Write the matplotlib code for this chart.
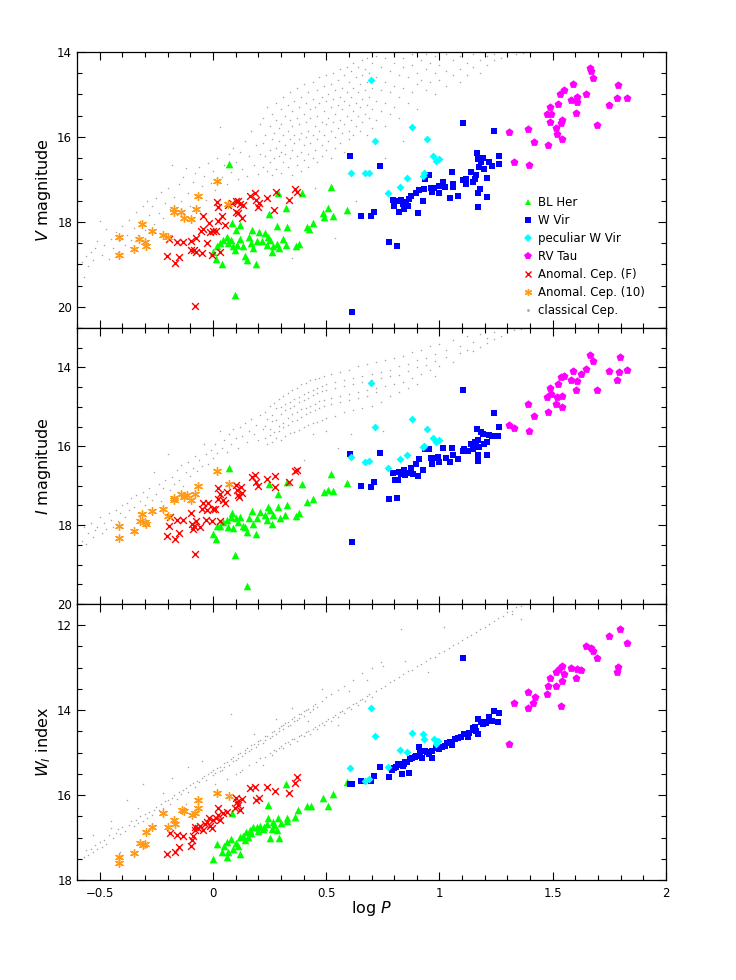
import matplotlib
matplotlib.use('Agg')
import matplotlib.pyplot as plt
from matplotlib.lines import Line2D
from matplotlib.ticker import MultipleLocator, FuncFormatter

# ==========================================
# data: (log P, magnitude) per class and panel
# ==========================================

# ---- V panel ----
blher_v_logp = [0.071, 0.083, 0.097, 0.120, 0.102, 0.002, 0.012, 0.039, 0.017, 0.031, 0.046, 0.061, 0.068, 0.078,
                0.090, 0.097, 0.105, 0.120, 0.131, 0.142, 0.149, 0.161, 0.167, 0.174, 0.178, 0.189, 0.193, 0.205,
                0.215, 0.230, 0.240, 0.244, 0.252, 0.259, 0.263, 0.281, 0.285, 0.293, 0.310, 0.322, 0.325, 0.365,
                0.381, 0.416, 0.425, 0.440, 0.487, 0.490, 0.509, 0.531, 0.592, 0.523, 0.394, 0.288, 0.322, 0.249]
blher_v = [16.64, 18.02, 19.72, 18.07, 18.20, 18.70, 18.88, 18.99, 18.58, 18.50, 18.42, 18.36, 18.50, 18.42,
           18.58, 18.66, 18.54, 18.41, 18.58, 18.80, 18.89, 18.36, 18.50, 18.19, 18.62, 18.99, 18.44, 18.23,
           18.46, 18.27, 18.54, 18.36, 18.42, 18.72, 18.58, 18.09, 18.52, 18.62, 18.41, 18.54, 18.13, 18.58,
           18.53, 18.13, 18.17, 18.02, 17.80, 17.89, 17.68, 17.86, 17.73, 17.18, 17.33, 17.33, 17.68, 17.81]

wvir_v_logp = [0.604, 0.616, 0.655, 1.102, 1.241, 0.739, 0.698, 0.713, 0.779, 0.813, 0.796, 0.801, 0.816, 0.830,
               0.838, 0.852, 0.860, 0.842, 0.820, 0.864, 0.874, 0.896, 0.908, 0.933, 0.926, 0.904, 0.937, 0.952,
               0.967, 0.977, 0.996, 0.999, 1.017, 1.025, 1.047, 1.058, 1.061, 1.055, 1.084, 1.102, 1.117, 1.119,
               1.139, 1.158, 1.164, 1.168, 1.175, 1.178, 1.168, 1.168, 1.183, 1.190, 1.197, 1.208, 1.219, 1.231,
               1.263, 1.263, 1.146, 1.161, 1.209, 0.962]
wvir_v = [16.46, 20.13, 17.87, 15.67, 15.85, 16.69, 17.87, 17.76, 18.48, 18.58, 17.49, 17.62, 17.51, 17.49,
          17.59, 17.53, 17.62, 17.69, 17.76, 17.47, 17.40, 17.33, 17.25, 17.22, 17.51, 17.79, 17.00, 16.89,
          17.29, 17.20, 17.16, 17.32, 17.06, 17.18, 17.43, 17.10, 17.18, 16.82, 17.40, 17.02, 17.00, 17.10,
          16.82, 16.98, 16.39, 16.53, 16.71, 17.22, 17.33, 17.65, 16.59, 16.49, 16.76, 16.96, 16.59, 16.68,
          16.45, 16.63, 17.06, 16.89, 17.41, 17.20]

pwvir_v_logp = [0.698, 0.717, 0.877, 0.943, 0.970, 0.984, 0.999, 0.933, 0.926, 0.857, 0.826, 0.774, 0.691, 0.609, 0.670]
pwvir_v = [14.67, 16.10, 15.77, 16.04, 16.45, 16.57, 16.53, 16.84, 16.92, 16.96, 17.18, 17.31, 16.85, 16.84, 16.84]

rvtau_v_logp = [1.663, 1.667, 1.679, 1.589, 1.550, 1.531, 1.645, 1.608, 1.579, 1.608, 1.525, 1.487, 1.476, 1.491,
                1.604, 1.487, 1.542, 1.535, 1.516, 1.520, 1.539, 1.418, 1.479, 1.393, 1.305, 1.329, 1.396, 1.697,
                1.748, 1.789, 1.785, 1.826]
rvtau_v = [14.38, 14.45, 14.61, 14.75, 14.90, 15.00, 14.98, 15.06, 15.14, 15.18, 15.22, 15.29, 15.45, 15.45,
           15.43, 15.65, 15.61, 15.67, 15.79, 15.92, 16.05, 16.13, 16.20, 15.82, 15.88, 16.59, 16.65, 15.73,
           15.24, 14.78, 15.08, 15.08]

acf_v_logp = [-0.204, -0.167, -0.149, -0.192, -0.159, -0.133, -0.096, -0.074, -0.096, -0.083, -0.074, -0.049,
              -0.005, 0.031, -0.079, -0.027, -0.054, -0.042, -0.042, -0.017, -0.013, 0.002, 0.014, 0.024, 0.042,
              0.053, 0.017, 0.024, 0.068, 0.083, 0.102, 0.112, 0.102, 0.112, 0.120, 0.131, 0.127, 0.164, 0.186,
              0.190, 0.200, 0.205, 0.237, 0.269, 0.277, 0.335, 0.362, 0.369]
acf_v = [18.80, 18.96, 18.83, 18.40, 18.48, 18.48, 18.44, 18.39, 18.67, 18.66, 18.70, 18.74, 18.78, 18.70,
         19.98, 18.50, 18.21, 18.17, 17.87, 18.02, 18.23, 18.21, 18.21, 17.97, 17.87, 18.07, 17.54, 17.64,
         17.60, 17.56, 17.52, 17.52, 17.76, 17.80, 17.58, 17.60, 17.91, 17.39, 17.33, 17.48, 17.64, 17.56,
         17.44, 17.72, 17.29, 17.48, 17.23, 17.29]

ac1o_v_logp = [-0.416, -0.416, -0.350, -0.325, -0.314, -0.300, -0.296, -0.270, -0.221, -0.200, -0.174, -0.170,
               -0.140, -0.126, -0.096, -0.074, -0.068, 0.018, 0.068]
ac1o_v = [18.36, 18.79, 18.64, 18.41, 18.05, 18.48, 18.58, 18.22, 18.31, 18.36, 17.69, 17.76, 17.76, 17.91,
          17.93, 17.69, 17.40, 17.04, 17.59]

# classical Cepheids, V: (log P, [V values at that log P])
cep_v_cols = [
    (-0.58, [18.95]), (-0.57, [19.30]), (-0.56, [18.80]), (-0.55, [19.05]), (-0.54, [18.70]), (-0.53, [18.90]),
    (-0.52, [18.62]), (-0.51, [18.45]), (-0.50, [17.99]), (-0.49, [18.78]), (-0.48, [18.55]), (-0.47, [18.17]),
    (-0.46, [18.88]), (-0.45, [18.40]), (-0.44, [18.62]), (-0.43, [18.25]), (-0.42, [18.70]), (-0.41, [18.42]),
    (-0.40, [18.10]), (-0.39, [18.55]), (-0.38, [18.30]), (-0.37, [17.95]), (-0.36, [18.42]), (-0.35, [18.15]),
    (-0.34, [17.76]), (-0.33, [18.30]), (-0.32, [17.98]), (-0.31, [17.62]), (-0.30, [18.20]), (-0.29, [17.52]),
    (-0.28, [17.85]), (-0.27, [17.62]), (-0.26, [18.05]), (-0.25, [17.45]), (-0.24, [17.78]), (-0.23, [17.30]),
    (-0.22, [17.92]), (-0.21, [17.55]), (-0.20, [17.20]), (-0.19, [17.70]), (-0.18, [16.66]), (-0.17, [17.42]),
    (-0.16, [17.85]), (-0.15, [17.10]), (-0.14, [17.50]), (-0.13, [16.95]), (-0.12, [16.74]), (-0.11, [17.33]),
    (-0.10, [17.62]), (-0.09, [17.05]), (-0.08, [16.85]), (-0.07, [17.38]), (-0.06, [16.70]), (-0.05, [17.15]),
    (-0.04, [16.93]), (-0.03, [17.48]), (-0.02, [16.62]), (-0.01, [17.09]), (0.00, [16.80]), (0.01, [17.25]),
    (0.02, [16.50]), (0.03, [15.76]), (0.04, [16.95]), (0.05, [16.65]), (0.06, [17.10]), (0.07, [16.40]),
    (0.08, [16.82]), (0.09, [16.25]), (0.10, [16.60]), (0.11, [17.00]), (0.12, [16.35]), (0.13, [16.75]),
    (0.14, [16.10]), (0.15, [16.92]), (0.16, [16.45]), (0.17, [15.85]), (0.18, [16.65]), (0.19, [16.20]),
    (0.20, [16.88]), (0.21, [15.70, 16.40]),
    (0.22, [15.55, 16.15, 16.70]), (0.23, [15.95, 16.45]), (0.24, [15.30, 16.80]), (0.25, [15.75, 16.30, 16.60]),
    (0.26, [15.45, 16.05, 16.90]), (0.27, [15.90, 16.50]), (0.28, [15.20, 15.60, 16.25, 16.75]),
    (0.29, [15.80, 16.10, 16.45]), (0.30, [15.35, 15.70, 16.35, 16.85]), (0.31, [15.05, 15.95, 16.60]),
    (0.32, [15.50, 16.20, 16.40]), (0.33, [15.25, 15.85, 16.70]), (0.34, [14.95, 15.60, 16.05, 16.50]),
    (0.35, [15.40, 15.75, 16.30, 16.90, 18.86]), (0.36, [15.15, 15.95, 16.15]), (0.37, [14.85, 15.55, 16.45, 16.65]),
    (0.38, [15.30, 15.70, 16.05]), (0.39, [15.05, 15.90, 16.35, 16.80]), (0.40, [14.75, 15.45, 16.20, 16.55]),
    (0.41, [15.20, 15.65, 16.00]), (0.42, [14.95, 15.85, 16.40, 16.70]), (0.43, [15.35, 15.55, 16.15]),
    (0.44, [14.70, 15.10, 15.95, 16.50]), (0.45, [15.30, 15.75, 16.30, 17.20]), (0.46, [14.90, 15.50, 16.05, 16.60]),
    (0.47, [14.60, 15.20, 15.85]), (0.48, [15.05, 15.65, 16.20, 16.45]), (0.49, [14.80, 15.40, 15.95]),
    (0.50, [14.55, 15.15, 15.70, 16.30]), (0.51, [15.00, 15.55, 16.10]), (0.52, [14.75, 15.30, 15.85, 16.50]),
    (0.53, [14.50, 15.10, 15.65]), (0.54, [14.90, 15.45, 16.00, 16.25, 18.38]), (0.55, [14.65, 15.25, 15.80]),
    (0.56, [14.40, 15.05, 15.60, 16.15]), (0.57, [14.85, 15.35, 15.90]), (0.58, [14.55, 15.15, 15.70, 16.35]),
    (0.59, [14.35, 14.95, 15.50]), (0.60, [14.70, 15.25, 15.85, 16.05]), (0.61, [14.45, 15.05, 15.60]),
    (0.62, [14.25, 14.85, 15.40, 15.95]), (0.63, [14.60, 15.20, 15.75, 17.52]), (0.64, [14.35, 14.95, 15.50]),
    (0.65, [14.75, 15.30, 15.85]), (0.66, [14.20, 14.55, 15.10, 15.65]), (0.67, [14.40, 14.90, 15.45]),
    (0.68, [14.15, 14.70, 15.25, 15.95]), (0.69, [14.50, 15.05, 15.55]), (0.70, [14.25, 14.85, 15.35, 15.80]),
    (0.72, [14.10, 14.60, 15.15, 15.60]), (0.74, [14.35, 14.90, 15.40]), (0.76, [14.15, 14.70, 15.20, 15.75, 16.50]),
    (0.78, [14.45, 14.95, 15.45]), (0.80, [14.05, 14.25, 14.80, 15.30]), (0.82, [14.55, 15.05, 15.55]),
    (0.84, [14.15, 14.35, 14.85, 16.10]), (0.86, [14.60, 15.20]), (0.88, [14.05, 14.30, 14.95]),
    (0.90, [14.50, 14.75, 15.35]), (0.92, [14.20, 14.65]), (0.94, [14.05, 14.40, 14.90]), (0.96, [14.25, 14.70]),
    (0.98, [14.10, 14.50, 15.00]), (1.00, [14.30, 14.65]), (1.03, [14.05, 14.45, 14.80]), (1.06, [14.20, 14.55]),
    (1.09, [14.10, 14.40, 14.70]), (1.12, [14.25, 14.55]), (1.15, [14.05, 14.35]), (1.18, [14.20, 14.50]),
    (1.21, [14.10, 14.30]), (1.24, [14.05, 14.20]), (1.27, [14.15]), (1.30, [14.08]), (1.34, [14.04]),
    (1.37, [14.02]),
]

# ---- I panel ----
blher_i_logp = [0.071, 0.083, 0.097, 0.149, 0.002, 0.012, 0.017, 0.031, 0.046, 0.061, 0.068, 0.078, 0.090, 0.102,
                0.112, 0.120, 0.131, 0.142, 0.149, 0.161, 0.171, 0.178, 0.189, 0.193, 0.208, 0.230, 0.240, 0.244,
                0.252, 0.260, 0.266, 0.288, 0.288, 0.296, 0.318, 0.328, 0.325, 0.365, 0.381, 0.394, 0.416, 0.440,
                0.490, 0.509, 0.531, 0.523, 0.592, 0.249]
blher_i = [16.54, 17.69, 18.76, 19.54, 18.23, 18.36, 18.02, 18.02, 17.92, 17.86, 18.04, 17.79, 18.08, 17.83,
           17.92, 17.79, 18.02, 18.04, 18.17, 17.83, 17.64, 17.97, 18.23, 17.81, 17.66, 17.75, 17.87, 17.55,
           17.62, 17.96, 17.75, 17.22, 17.55, 17.81, 17.75, 17.49, 16.90, 17.77, 17.69, 16.95, 17.41, 17.33,
           17.16, 17.12, 17.13, 16.71, 16.93, 16.95]

wvir_i_logp = [0.604, 0.616, 0.655, 1.102, 1.241, 0.739, 0.698, 0.713, 0.779, 0.813, 0.796, 0.805, 0.820, 0.830,
               0.842, 0.849, 0.816, 0.860, 0.874, 0.882, 0.904, 0.896, 0.911, 0.926, 0.937, 0.952, 0.967, 0.970,
               0.992, 0.999, 1.017, 1.028, 1.047, 1.058, 1.055, 1.084, 1.102, 1.109, 1.124, 1.139, 1.158, 1.164,
               1.168, 1.175, 1.168, 1.168, 1.183, 1.190, 1.197, 1.208, 1.212, 1.219, 1.231, 1.263, 1.260, 1.146,
               1.161, 0.962]
wvir_i = [16.19, 18.42, 17.01, 14.56, 15.15, 16.16, 17.02, 16.90, 17.34, 17.30, 16.69, 16.85, 16.64, 16.71,
          16.60, 16.73, 16.85, 16.67, 16.54, 16.70, 16.75, 16.46, 16.32, 16.60, 16.07, 16.08, 16.45, 16.29,
          16.27, 16.41, 16.04, 16.29, 16.39, 16.21, 16.04, 16.33, 16.12, 16.06, 16.12, 15.93, 15.90, 15.55,
          15.83, 16.01, 16.22, 16.38, 15.63, 15.70, 15.93, 16.22, 15.89, 15.72, 15.74, 15.52, 15.74, 16.06,
          15.97, 16.29]

pwvir_i_logp = [0.698, 0.717, 0.877, 0.943, 0.970, 0.984, 0.999, 0.933, 0.926, 0.857, 0.826, 0.774, 0.691, 0.609, 0.670]
pwvir_i = [14.39, 15.52, 15.31, 15.55, 15.79, 15.89, 15.83, 15.99, 16.01, 16.21, 16.32, 16.54, 16.38, 16.27, 16.40]

rvtau_i_logp = [1.663, 1.679, 1.589, 1.550, 1.535, 1.645, 1.623, 1.579, 1.608, 1.525, 1.487, 1.491, 1.476, 1.604,
                1.517, 1.542, 1.516, 1.539, 1.418, 1.479, 1.393, 1.305, 1.329, 1.396, 1.697, 1.748, 1.795, 1.792,
                1.785, 1.826]
rvtau_i = [13.68, 13.84, 14.10, 14.22, 14.25, 14.04, 14.16, 14.33, 14.35, 14.41, 14.52, 14.67, 14.75, 14.58,
           14.75, 14.73, 14.94, 15.00, 15.23, 15.13, 14.94, 15.47, 15.53, 15.61, 14.58, 14.08, 13.74, 14.12,
           14.33, 14.06]

acf_i_logp = [-0.204, -0.167, -0.149, -0.192, -0.189, -0.159, -0.133, -0.096, -0.093, -0.089, -0.083, -0.074,
              -0.057, -0.049, -0.042, -0.030, -0.024, -0.020, -0.005, 0.002, 0.009, -0.079, 0.031, 0.024, 0.031,
              0.043, 0.053, 0.064, 0.024, 0.102, 0.108, 0.112, 0.122, 0.127, 0.117, 0.171, 0.186, 0.190, 0.200,
              0.237, 0.274, 0.274, 0.335, 0.362, 0.369]
acf_i = [18.28, 18.34, 18.21, 18.02, 17.79, 17.87, 17.87, 17.70, 17.96, 18.11, 18.02, 17.89, 18.04, 17.60,
         17.44, 17.86, 17.62, 17.45, 17.90, 17.60, 17.58, 18.73, 17.90, 17.07, 17.20, 17.37, 17.45, 17.16,
         17.33, 16.99, 17.12, 17.24, 17.03, 17.18, 17.28, 16.78, 16.74, 16.90, 17.01, 16.82, 16.75, 17.03,
         16.90, 16.63, 16.61]

ac1o_i_logp = [-0.416, -0.416, -0.350, -0.314, -0.324, -0.299, -0.295, -0.270, -0.221, -0.200, -0.174, -0.171,
               -0.140, -0.126, -0.115, -0.096, -0.079, -0.068, 0.017, 0.073]
ac1o_i = [18.02, 18.32, 18.15, 17.72, 17.90, 17.92, 17.96, 17.65, 17.58, 17.76, 17.30, 17.35, 17.20, 17.28,
          17.24, 17.37, 17.22, 17.01, 16.63, 16.96]

cep_i_cols = [
    (-0.58, [18.40]), (-0.57, [18.05]), (-0.56, [18.48]), (-0.55, [18.20]), (-0.54, [17.95]), (-0.53, [18.30]),
    (-0.52, [18.13]), (-0.51, [18.04]), (-0.50, [17.80]), (-0.49, [18.20]), (-0.48, [17.95]), (-0.47, [18.10]),
    (-0.46, [17.70]), (-0.45, [17.87]), (-0.44, [18.05]), (-0.43, [17.62]), (-0.42, [17.90]), (-0.41, [17.70]),
    (-0.40, [17.48]), (-0.39, [17.80]), (-0.38, [17.45]), (-0.37, [17.62]), (-0.36, [17.30]), (-0.35, [17.55]),
    (-0.34, [17.24]), (-0.33, [17.70]), (-0.32, [17.40]), (-0.31, [17.15]), (-0.30, [17.50]), (-0.29, [17.28]),
    (-0.28, [17.05]), (-0.27, [17.35]), (-0.26, [16.65]), (-0.25, [17.20]), (-0.24, [16.95]), (-0.23, [17.38]),
    (-0.22, [17.05]), (-0.21, [16.85]), (-0.20, [16.19]), (-0.19, [17.10]), (-0.18, [16.78]), (-0.17, [16.95]),
    (-0.16, [16.60]), (-0.15, [16.85]), (-0.14, [16.48]), (-0.13, [17.00]), (-0.12, [16.65]), (-0.11, [16.40]),
    (-0.10, [16.75]), (-0.09, [16.55]), (-0.08, [16.25]), (-0.07, [16.62]), (-0.06, [16.35]), (-0.05, [16.50]),
    (-0.04, [15.94]), (-0.03, [16.20]), (-0.02, [16.45]), (-0.01, [16.10]), (0.00, [16.30]), (0.01, [15.95]),
    (0.02, [16.18]), (0.03, [15.60]), (0.04, [16.05]), (0.05, [15.85]), (0.06, [16.15]), (0.07, [15.70]),
    (0.08, [15.95]), (0.09, [15.55]), (0.10, [15.80]), (0.11, [16.05]), (0.12, [15.50]), (0.13, [15.75]),
    (0.14, [15.40]), (0.15, [15.90]), (0.16, [15.60]), (0.17, [15.30]), (0.18, [15.70]), (0.19, [15.45]),
    (0.20, [15.85]), (0.21, [15.20]), (0.22, [15.55]),
    (0.23, [15.12, 15.48, 15.80]), (0.24, [15.30, 15.93]), (0.25, [14.97, 15.57, 15.71]),
    (0.26, [15.21, 15.36, 15.88]), (0.27, [14.89, 15.64]), (0.28, [15.02, 15.33, 15.79]),
    (0.29, [14.79, 15.49, 15.60]), (0.30, [15.01, 15.18, 15.84]), (0.31, [14.73, 15.41, 15.52]),
    (0.32, [14.93, 15.07, 15.75]), (0.33, [14.64, 15.29, 15.46]), (0.34, [14.88, 15.02, 15.67]),
    (0.35, [14.58, 15.19, 15.37]), (0.36, [14.79, 14.97, 15.63]), (0.37, [14.52, 15.12, 15.33]),
    (0.38, [14.74, 14.88, 15.58]), (0.39, [14.43, 15.06, 15.26]), (0.40, [14.67, 14.82, 15.51, 16.35]),
    (0.41, [14.39, 15.03, 15.18]), (0.42, [14.62, 14.77, 15.47]), (0.43, [14.33, 14.98, 15.12]),
    (0.44, [14.57, 14.71, 15.42, 15.69]), (0.45, [14.29, 14.93, 15.08]), (0.46, [14.53, 14.66, 15.38]),
    (0.47, [14.27, 14.86, 15.02]), (0.48, [14.47, 14.61, 15.33]), (0.49, [14.21, 14.83, 14.97]),
    (0.50, [14.42, 14.57, 15.27, 15.60]), (0.52, [14.16, 14.78, 14.92]), (0.54, [14.37, 14.52, 15.22]),
    (0.55, [16.05]), (0.56, [14.12, 14.72, 14.88]), (0.58, [14.31, 14.47, 15.13]), (0.60, [14.06, 14.68, 14.83]),
    (0.61, [15.70]), (0.62, [14.27, 14.42, 15.07]), (0.64, [13.96, 14.62, 14.78]), (0.66, [14.22, 14.38, 15.02]),
    (0.68, [13.91, 14.57, 14.73]), (0.70, [14.17, 14.33, 14.97]), (0.72, [13.86, 14.52, 14.63]),
    (0.74, [14.12, 14.28, 14.87]), (0.75, [15.60]), (0.76, [13.81, 14.47]), (0.78, [14.06, 14.23, 14.72]),
    (0.80, [13.76, 14.42]), (0.82, [13.96, 14.18, 14.62]), (0.84, [13.71, 14.37]), (0.86, [13.91, 14.08, 14.52]),
    (0.88, [13.62, 14.27]), (0.90, [13.81, 13.98, 14.42]), (0.92, [13.56, 14.17]), (0.94, [13.76, 13.93]),
    (0.96, [13.46, 14.07]), (0.98, [13.66, 13.83, 14.22]), (1.00, [13.41, 13.97]), (1.03, [13.56, 13.73]),
    (1.06, [13.31, 13.87]), (1.09, [13.46, 13.63]), (1.12, [13.21, 13.57]), (1.15, [13.36, 13.58]),
    (1.18, [13.16, 13.47]), (1.21, [13.26, 13.38]), (1.24, [13.11, 13.28]), (1.27, [13.21]), (1.30, [13.11]),
    (1.33, [13.06]), (1.36, [13.03]),
]

# ---- W_I panel ----
blher_w_logp = [0.002, 0.017, 0.039, 0.061, 0.068, 0.078, 0.090, 0.102, 0.120, 0.120, 0.134, 0.146, 0.156, 0.164,
                0.178, 0.193, 0.208, 0.225, 0.237, 0.244, 0.252, 0.266, 0.281, 0.288, 0.291, 0.325, 0.328, 0.362,
                0.376, 0.416, 0.435, 0.487, 0.509, 0.528, 0.083, 0.244, 0.322, 0.592, 0.222, 0.259,
                0.050, 0.110, 0.140, 0.170, 0.200, 0.270, 0.300, 0.060]
blher_w = [17.51, 17.15, 17.33, 17.10, 17.33, 17.04, 17.28, 17.12, 17.39, 16.99, 16.96, 16.86, 16.98, 16.82,
           16.75, 16.76, 16.73, 16.75, 16.67, 16.55, 17.00, 16.63, 16.82, 16.55, 17.00, 16.55, 16.60, 16.51,
           16.34, 16.26, 16.26, 16.08, 16.26, 15.98, 16.43, 16.24, 15.73, 15.69, 16.79, 16.79,
           17.20, 17.20, 17.05, 16.90, 16.85, 16.70, 16.65, 17.45]

wvir_w_logp = [0.604, 0.616, 0.655, 1.102, 0.698, 0.713, 0.739, 0.779, 0.801, 0.816, 0.835, 0.838, 0.849, 0.867,
               0.870, 0.896, 0.911, 0.923, 0.937, 0.967, 0.967, 0.999, 1.025, 1.046, 1.055, 1.070, 1.094, 1.109,
               1.124, 1.131, 1.146, 1.158, 1.168, 1.172, 1.183, 1.197, 1.219, 1.231, 1.241, 1.263, 1.260, 1.161,
               0.952, 0.790, 0.808, 0.825, 0.843, 0.858, 0.880, 0.890, 0.915, 0.945, 0.985, 1.010, 1.035, 1.080,
               1.115, 1.150, 1.190, 1.205]
wvir_w = [15.73, 15.75, 15.66, 12.78, 15.68, 15.55, 15.33, 15.57, 15.37, 15.27, 15.51, 15.31, 15.21, 15.47,
          15.15, 15.07, 14.86, 15.13, 14.96, 15.13, 14.96, 14.92, 14.84, 14.74, 14.82, 14.68, 14.64, 14.56,
          14.63, 14.53, 14.47, 14.39, 14.21, 14.56, 14.29, 14.27, 14.17, 14.25, 14.02, 14.07, 14.29, 14.49,
          15.04, 15.42, 15.33, 15.30, 15.26, 15.22, 15.12, 15.10, 15.00, 14.98, 14.88, 14.86, 14.78, 14.66,
          14.55, 14.42, 14.33, 14.30]

pwvir_w_logp = [0.698, 0.717, 0.877, 0.926, 0.933, 0.977, 0.992, 0.984, 0.857, 0.826, 0.774, 0.691, 0.607, 0.670]
pwvir_w = [13.94, 14.62, 14.53, 14.55, 14.68, 14.68, 14.72, 14.80, 14.99, 14.93, 15.33, 15.62, 15.37, 15.67]

rvtau_w_logp = [1.796, 1.748, 1.826, 1.645, 1.667, 1.679, 1.697, 1.789, 1.785, 1.542, 1.528, 1.516, 1.550, 1.579,
                1.608, 1.623, 1.604, 1.487, 1.542, 1.481, 1.516, 1.473, 1.393, 1.422, 1.413, 1.393, 1.329, 1.538,
                1.305]
rvtau_w = [12.09, 12.25, 12.42, 12.50, 12.53, 12.60, 12.78, 12.98, 13.10, 12.97, 13.03, 13.11, 13.15, 13.01,
           13.04, 13.06, 13.25, 13.25, 13.31, 13.43, 13.43, 13.62, 13.57, 13.70, 13.84, 13.96, 13.84, 13.90,
           14.80]

acf_w_logp = [-0.201, -0.167, -0.149, -0.189, -0.159, -0.133, -0.098, -0.093, -0.086, -0.079, -0.079, -0.068,
              -0.057, -0.045, -0.035, -0.024, -0.016, -0.005, 0.002, 0.014, 0.024, 0.031, 0.046, 0.064, 0.024,
              0.102, 0.108, 0.112, 0.127, 0.120, 0.098, 0.164, 0.186, 0.190, 0.205, 0.237, 0.274, 0.335, 0.362,
              0.369, -0.013]
acf_w = [17.39, 17.33, 17.22, 16.90, 16.94, 16.96, 17.20, 17.06, 16.97, 16.82, 16.75, 16.78, 16.73, 16.82,
         16.68, 16.63, 16.55, 16.78, 16.59, 16.53, 16.31, 16.59, 16.43, 16.39, 16.47, 16.06, 16.16, 16.24,
         16.10, 16.35, 16.31, 15.84, 15.82, 16.12, 16.08, 15.82, 15.90, 15.96, 15.71, 15.57, 16.73]

ac1o_w_logp = [-0.416, -0.416, -0.350, -0.324, -0.309, -0.299, -0.295, -0.270, -0.221, -0.200, -0.174, -0.167,
               -0.137, -0.126, -0.093, -0.079, -0.068, -0.068, 0.020, 0.073]
ac1o_w = [17.45, 17.59, 17.36, 17.14, 17.18, 17.15, 16.87, 16.75, 16.43, 16.75, 16.59, 16.67, 16.34, 16.37,
          16.47, 16.43, 16.12, 16.31, 15.94, 16.02]

cep_w_cols = [
    (-0.57, [17.45]), (-0.56, [17.30]), (-0.55, [17.40]), (-0.54, [17.26]), (-0.53, [17.35, 16.95]),
    (-0.52, [17.18]), (-0.51, [17.28]), (-0.50, [17.10]), (-0.49, [17.22]), (-0.48, [17.05]), (-0.47, [17.15]),
    (-0.46, [16.95]), (-0.45, [16.78, 16.60]), (-0.44, [17.00]), (-0.43, [16.90]), (-0.42, [16.80]),
    (-0.41, [16.92, 17.35]), (-0.40, [16.75]), (-0.39, [16.84]), (-0.38, [16.12]), (-0.37, [16.70]),
    (-0.36, [16.62]), (-0.35, [16.72]), (-0.34, [16.58]), (-0.33, [16.66, 16.30]), (-0.32, [16.50]),
    (-0.31, [16.60, 15.73]), (-0.30, [16.45]), (-0.29, [16.53]), (-0.28, [16.40]), (-0.27, [16.48]),
    (-0.26, [16.35]), (-0.25, [16.28, 16.70]), (-0.24, [16.36]), (-0.23, [16.22]), (-0.22, [16.30, 15.95]),
    (-0.21, [16.15]), (-0.20, [16.12]), (-0.19, [16.20]), (-0.18, [16.06, 15.60]), (-0.17, [16.00]),
    (-0.16, [16.10]), (-0.15, [15.93]), (-0.14, [15.98]), (-0.13, [15.88]), (-0.12, [15.83, 16.20]),
    (-0.11, [15.92, 15.33]), (-0.10, [15.77]), (-0.09, [15.72]), (-0.08, [15.80]), (-0.07, [15.66]),
    (-0.06, [15.70]), (-0.05, [15.60, 15.20]), (-0.04, [15.55]), (-0.03, [15.64]), (-0.02, [15.50]),
    (-0.01, [15.46]), (0.00, [15.42, 15.52]), (0.01, [15.48, 15.75]), (0.02, [15.36, 15.90]),
    (0.03, [15.33, 15.43]), (0.04, [15.40]), (0.05, [15.24, 15.34]), (0.06, [15.22, 15.62]), (0.07, [15.30]),
    (0.08, [15.15, 14.08, 14.85]), (0.09, [15.10, 15.20]), (0.10, [15.18, 15.50]), (0.11, [15.03, 15.12]),
    (0.12, [15.00, 15.45]), (0.13, [15.08, 15.40]), (0.14, [14.93, 15.02]), (0.15, [14.90]),
    (0.16, [14.97, 15.28]), (0.17, [14.82, 14.91]), (0.18, [14.80, 14.55]), (0.19, [14.86, 15.22]),
    (0.20, [14.72, 14.80]), (0.21, [14.70, 15.12]), (0.22, [14.77, 15.30]), (0.23, [14.62, 15.10, 14.71]),
    (0.24, [14.60]), (0.25, [14.66, 15.00]), (0.26, [14.52, 15.05, 14.60]), (0.27, [14.50, 14.94]),
    (0.28, [14.56, 14.96, 14.20]), (0.29, [14.42, 14.88, 14.50]), (0.30, [14.38, 14.84]),
    (0.31, [14.45, 14.88, 14.35]), (0.32, [14.31, 14.78]), (0.33, [14.28, 14.76, 14.37]), (0.34, [14.35, 14.80]),
    (0.35, [14.20, 14.68, 13.95]), (0.36, [14.17, 14.67, 14.26]), (0.37, [14.24, 14.72]),
    (0.38, [14.10, 14.60, 14.19]), (0.39, [14.08, 14.58]), (0.40, [14.14, 14.62, 14.03]), (0.41, [14.00, 14.52]),
    (0.42, [13.97, 14.50, 14.25]), (0.43, [14.04, 14.55]), (0.44, [13.90, 14.44, 13.98]), (0.45, [13.86, 14.40]),
    (0.46, [13.92, 14.45]), (0.47, [14.34]), (0.48, [13.78, 14.30, 13.50]), (0.49, [14.36]), (0.50, [13.70, 14.25]),
    (0.51, [14.21]), (0.52, [13.63, 14.26]), (0.53, [14.15]), (0.54, [14.11]), (0.55, [13.52, 14.16, 14.35]),
    (0.56, [14.05]), (0.57, [14.02]), (0.58, [13.42, 14.07]), (0.59, [13.96]), (0.60, [13.92, 13.55]),
    (0.61, [13.97]), (0.62, [13.28, 13.86]), (0.63, [13.83]), (0.64, [13.88]), (0.65, [13.76]),
    (0.66, [13.13, 13.74]), (0.67, [13.79]), (0.68, [13.66, 13.30]), (0.69, [13.63]), (0.70, [13.00, 13.68]),
    (0.72, [13.55]), (0.74, [12.86, 13.47]), (0.75, [12.95]), (0.76, [13.42]), (0.78, [13.33]), (0.80, [13.30]),
    (0.82, [13.22]), (0.83, [12.09]), (0.84, [13.16]), (0.85, [12.85]), (0.86, [13.08]), (0.88, [13.05]),
    (0.90, [12.96]), (0.92, [12.92]), (0.94, [12.84]), (0.95, [13.10]), (0.96, [12.78]), (0.98, [12.74]),
    (1.00, [12.66]), (1.02, [12.60, 12.05]), (1.04, [12.54]), (1.06, [12.47]), (1.08, [12.42]), (1.10, [12.35]),
    (1.12, [12.28]), (1.14, [12.22]), (1.16, [12.16]), (1.18, [12.08]), (1.20, [12.03]), (1.22, [11.96]),
    (1.24, [11.90]), (1.26, [11.84]), (1.28, [11.78]), (1.30, [11.70]), (1.32, [11.66, 11.74]), (1.34, [11.58]),
    (1.36, [11.54, 11.86]),
]

class_labels = ['BL Her', 'W Vir', 'peculiar W Vir', 'RV Tau',
                'Anomal. Cep. (F)', 'Anomal. Cep. (10)', 'classical Cep.']
y_labels = ['$V$ magnitude', '$I$ magnitude', '$W_I$ index']
y_limits = [(20.5, 14.0), (20.0, 13.0), (18.0, 11.5)]

# ==========================================
# styles
# ==========================================
GRAY = '#a6a6a6'
STYLES = {
    'blher': dict(marker='^', color='#00ff00', s=30, lw=0),
    'wvir': dict(marker='s', color='#0000ff', s=20, lw=0),
    'pwvir': dict(marker='D', color='#00ffff', s=16, lw=0),
    'rvtau': dict(marker='p', color='#ff00ff', s=36, lw=0),
    'acf': dict(marker='x', color='#ff0000', s=24, lw=1.0),
    'ac1o': dict(marker=(6, 2, 0), color='#ff9a1a', s=32, lw=1.0),
}


def expand(cols):
    xs, ys = [], []
    for lp, mags in cols:
        xs += [lp] * len(mags)
        ys += mags
    return xs, ys


panels = [
    dict(cep=cep_v_cols, blher=(blher_v_logp, blher_v), wvir=(wvir_v_logp, wvir_v), pwvir=(pwvir_v_logp, pwvir_v),
         rvtau=(rvtau_v_logp, rvtau_v), acf=(acf_v_logp, acf_v), ac1o=(ac1o_v_logp, ac1o_v)),
    dict(cep=cep_i_cols, blher=(blher_i_logp, blher_i), wvir=(wvir_i_logp, wvir_i), pwvir=(pwvir_i_logp, pwvir_i),
         rvtau=(rvtau_i_logp, rvtau_i), acf=(acf_i_logp, acf_i), ac1o=(ac1o_i_logp, ac1o_i)),
    dict(cep=cep_w_cols, blher=(blher_w_logp, blher_w), wvir=(wvir_w_logp, wvir_w), pwvir=(pwvir_w_logp, pwvir_w),
         rvtau=(rvtau_w_logp, rvtau_w), acf=(acf_w_logp, acf_w), ac1o=(ac1o_w_logp, ac1o_w)),
]

# ==========================================
# figure
# ==========================================
plt.rcParams['font.family'] = ['DejaVu Sans']
plt.rcParams['mathtext.fontset'] = 'dejavusans'

fig = plt.figure(figsize=(7.36, 9.8), dpi=100)
ax_left, ax_w, ax_h = 77 / 736, 589 / 736, 276 / 980
bottoms = [1 - 328 / 980, 1 - 604 / 980, 1 - 880 / 980]

fmt = FuncFormatter(lambda v, p: ('%g' % v).replace('-', '\u2212'))

axes = []
for k, (b, pdata) in enumerate(zip(bottoms, panels)):
    ax = fig.add_axes([ax_left, b, ax_w, ax_h])
    axes.append(ax)

    cx, cy = expand(pdata['cep'])
    ax.scatter(cx, cy, s=1.2, color=GRAY, lw=0, zorder=1)
    for key in ['blher', 'wvir', 'pwvir', 'rvtau', 'acf', 'ac1o']:
        st = STYLES[key]
        x, y = pdata[key]
        if key in ('acf', 'ac1o'):
            ax.scatter(x, y, marker=st['marker'], c=st['color'], s=st['s'], linewidths=st['lw'], zorder=3)
        else:
            ax.scatter(x, y, marker=st['marker'], color=st['color'], s=st['s'], linewidths=0, zorder=2)

    ax.set_xlim(-0.6, 2.0)
    ax.set_ylim(*y_limits[k])
    ax.xaxis.set_major_locator(MultipleLocator(0.5))
    ax.xaxis.set_minor_locator(MultipleLocator(0.1))
    ax.yaxis.set_major_locator(MultipleLocator(2))
    ax.yaxis.set_minor_locator(MultipleLocator(0.5))
    ax.xaxis.set_major_formatter(fmt)
    ax.yaxis.set_major_formatter(fmt)
    ax.tick_params(which='both', direction='in', top=True, right=True, labelsize=8.5, width=0.8)
    ax.tick_params(which='major', length=5.5)
    ax.tick_params(which='minor', length=3.5)
    ax.tick_params(axis='x', labelbottom=(k == 2), pad=5)
    for sp in ax.spines.values():
        sp.set_linewidth(0.9)
    ax.set_ylabel(y_labels[k], fontsize=11.5)
    ax.yaxis.set_label_coords(-0.041, 0.5)

axes[2].set_xlabel('log $P$', fontsize=11.5)
axes[2].xaxis.set_label_coords(0.5, -0.068)

# legend (top panel, lower right)
handles = []
for key in ['blher', 'wvir', 'pwvir', 'rvtau', 'acf', 'ac1o']:
    st = STYLES[key]
    ms = st['s'] ** 0.5 * 0.9
    if key in ('acf', 'ac1o'):
        handles.append(Line2D([], [], ls='none', marker=st['marker'], color=st['color'], markersize=ms, mew=1.0))
    else:
        handles.append(Line2D([], [], ls='none', marker=st['marker'], color=st['color'], markersize=ms, mew=0))
handles.append(Line2D([], [], ls='none', marker='.', color=GRAY, markersize=2))
axes[0].legend(handles, class_labels, loc='upper left', bbox_to_anchor=(0.757, 0.478), frameon=False,
               fontsize=8.5, handlelength=0.8, handletextpad=0.5, labelspacing=0.42, borderpad=0,
               borderaxespad=0)

fig.savefig('out.png', dpi=100)
